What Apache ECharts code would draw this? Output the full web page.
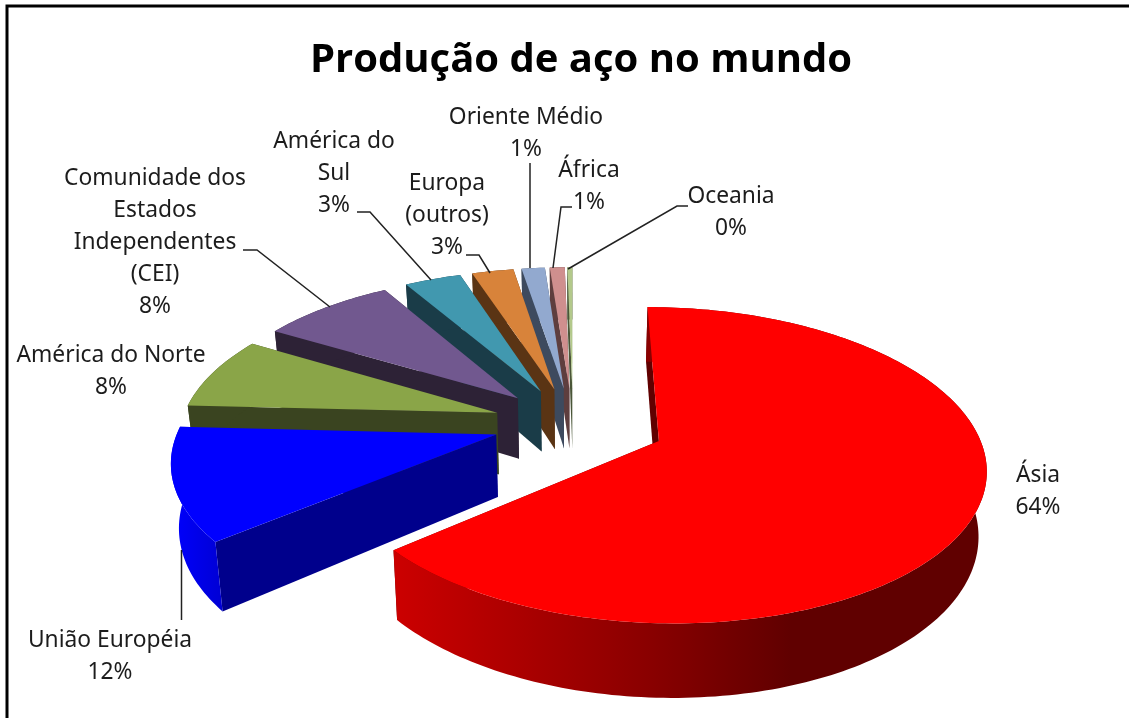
<!DOCTYPE html>
<html>
<head>
<meta charset="utf-8">
<style>
    html, body { margin: 0; padding: 0; background: #fff; }
    #main { width: 1129px; height: 718px; }
</style>
<script src="https://cdn.jsdelivr.net/npm/echarts@6/dist/echarts.min.js"></script>
</head>
<body>
<div id="main"></div>
<script>
const titleText = 'Produção de aço no mundo'
const names = ['Ásia', 'União Européia', 'América do Norte', 'Comunidade dos Estados Independentes (CEI)', 'América do Sul', 'Europa (outros)', 'Oriente Médio', 'África', 'Oceania']
const values = [64.0, 11.8, 7.7, 8.0, 3.4, 2.5, 1.4, 0.9, 0.3]
const topColors = ['#ff0000', '#0000ff', '#8aa548', '#71588f', '#4198af', '#d8833a', '#92a9cf', '#cf8f8e', '#b3c98b']
const sideColors = ['#880000', '#00008c', '#3a4420', '#2d2236', '#1a3c48', '#5a3414', '#3d4a5e', '#5e3e3e', '#4a5638']

// 3d projection of the pie
const cx = 573
const cy = 423
const radiusX = 316
const radiusZ = 149
const explodeX = 333
const perspective = 0.15
const depth = 62
const bottomShrink = 0.98
const explode = [0.28, 0.24, 0.24, 0.24, 0.24, 0.24, 0.24, 0.24, 0.24]

// label lines wrapped as in the picture, centre x and first line y, then leader line
const labelLines = [['Ásia'], ['União Européia'], ['América do Norte'], ['Comunidade dos', 'Estados', 'Independentes', '(CEI)'], ['América do', 'Sul'], ['Europa', '(outros)'], ['Oriente Médio'], ['África'], ['Oceania']]
const labelSpots = [
    { x: 1038, y: 476, leader: null },
    { x: 110, y: 641, leader: [[181.5, 550], [181.5, 620]] },
    { x: 111, y: 356, leader: null },
    { x: 155, y: 179, leader: [[243, 250], [257, 250], [330, 307]] },
    { x: 334, y: 142, leader: [[357, 212], [370, 212], [431, 280]] },
    { x: 447, y: 184, leader: [[466, 255], [479, 255], [490, 273]] },
    { x: 526, y: 118, leader: [[530, 163], [530, 268]] },
    { x: 589, y: 171, leader: [[572, 207], [561, 207], [553, 268]] },
    { x: 731, y: 197, leader: [[688, 206], [677, 206], [568, 269]] },
]
const lineHeight = 32

const total = values.reduce((a, b) => a + b, 0)
let sum = 0
const slices = values.map((v, i) => {
    const start = sum / total * Math.PI * 2
    sum += v
    const end = sum / total * Math.PI * 2
    return { index: i, start, end, mid: (start + end) / 2 }
})

function project(i, r, angle, bottom) {
    const mid = slices[i].mid
    const Z = -r * Math.cos(angle) - explode[i] * Math.cos(mid)
    const den = 1 - perspective * Z
    let sx = (radiusX * r * Math.sin(angle) + explodeX * explode[i] * Math.sin(mid)) / den
    let sy = radiusZ * Z / den
    if (bottom) {
        sx *= bottomShrink
        sy += depth / den
    }
    return [cx + sx, cy + sy]
}

function arcPoints(i, bottom) {
    const s = slices[i]
    const steps = Math.max(4, Math.ceil((s.end - s.start) / 0.02))
    const pts = []
    for (let k = 0; k <= steps; k++) {
        pts.push(project(i, 1, s.start + (s.end - s.start) * k / steps, bottom))
    }
    return pts
}

function rimFill(i) {
    if (i === 0) {
        return new echarts.graphic.LinearGradient(0, 0, 1, 0, [
            { offset: 0, color: '#cc0000' },
            { offset: 0.22, color: '#aa0000' },
            { offset: 0.44, color: '#880000' },
            { offset: 0.67, color: '#600000' },
            { offset: 1, color: '#600000' },
        ])
    }
    if (i === 1) {
        return new echarts.graphic.LinearGradient(0, 0, 1, 0, [
            { offset: 0, color: '#0000ff' },
            { offset: 1, color: '#0000d4' },
        ])
    }
    return sideColors[i]
}

function poly(points, fill, z2) {
    return { type: 'polygon', z2, shape: { points }, style: { fill, stroke: null } }
}

function renderSlice(params, api) {
    const i = api.value(0)
    const top = arcPoints(i, false)
    const low = arcPoints(i, true)
    const apex = project(i, 0, 0, false)
    const apexLow = project(i, 0, 0, true)
    const side = i === 0 ? '#600000' : sideColors[i]
    const children = [
        poly([apex, top[top.length - 1], low[low.length - 1], apexLow], side, 1),
        poly([apex, top[0], low[0], apexLow], side, 2),
        poly(top.concat(low.slice().reverse()), rimFill(i), 3),
        poly([apex].concat(top), topColors[i], 4),
    ]
    return { type: 'group', children }
}

// labels and leader lines
const labelGraphics = []
labelSpots.forEach((spot, i) => {
    const lines = labelLines[i].concat([Math.round(values[i]) + '%'])
    lines.forEach((line, n) => {
        labelGraphics.push({
            type: 'text',
            x: spot.x,
            y: spot.y + n * lineHeight,
            z: 10,
            style: { text: line, fill: '#1c1c1c', font: '22.8px "Noto Sans"', align: 'center', verticalAlign: 'middle' },
        })
    })
    if (spot.leader) {
        labelGraphics.push({
            type: 'polyline',
            z: 9,
            shape: { points: spot.leader },
            style: { stroke: '#222', lineWidth: 1.5, fill: null },
        })
    }
})

const myChart = echarts.init(document.getElementById('main'))
const option = {
    animation: false,
    backgroundColor: '#fff',
    title: {
        text: titleText,
        left: 576,
        top: 56,
        textAlign: 'center',
        textVerticalAlign: 'middle',
        textStyle: { fontFamily: 'Open Sans', fontWeight: 'bold', fontSize: 40, color: '#000' },
    },
    graphic: [
        {
            type: 'polyline',
            z: 20,
            shape: { points: [[7, 718], [7, 6], [1129, 6]] },
            style: { stroke: '#000', lineWidth: 3, fill: null },
        },
    ].concat(labelGraphics),
    series: [{
        type: 'custom',
        coordinateSystem: 'none',
        silent: true,
        renderItem: renderSlice,
        // painted from the back slice to the front one
        data: slices.map((s) => [s.index, values[s.index]]).reverse(),
    }],
}
myChart.setOption(option)
</script>
</body>
</html>
